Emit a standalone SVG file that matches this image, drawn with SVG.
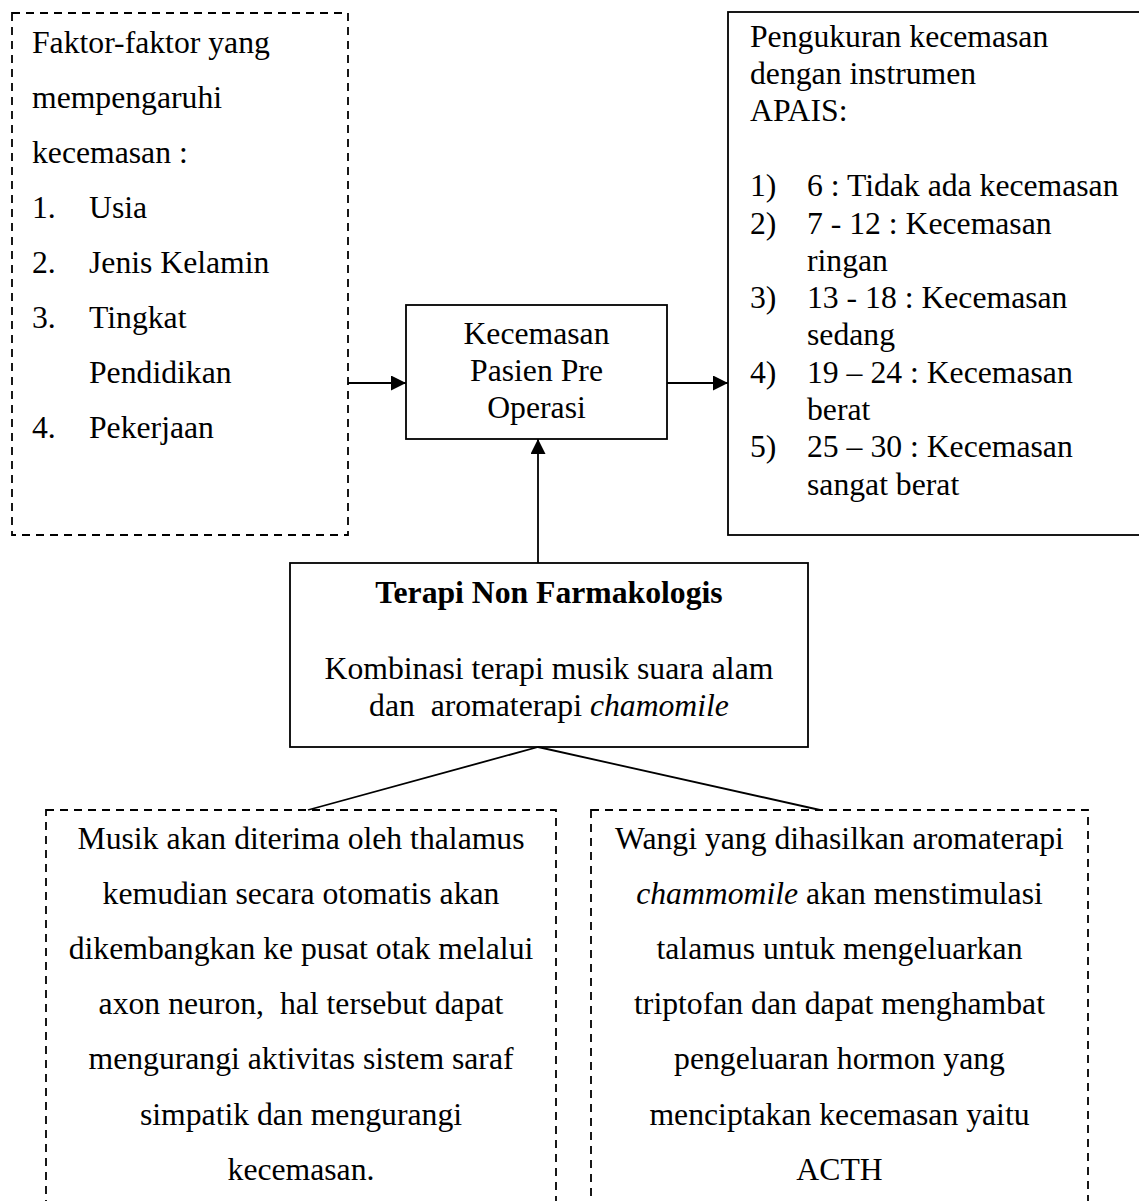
<svg xmlns="http://www.w3.org/2000/svg" width="1139" height="1201" viewBox="0 0 1139 1201">
<style>
text{font-family:"Liberation Serif","Times New Roman",serif;font-size:31.7px;fill:#000}
.c{text-anchor:middle}
.dash{fill:none;stroke:#000;stroke-width:1.8;stroke-dasharray:8 6}
.solid{fill:none;stroke:#000;stroke-width:1.8}
.ln{stroke:#000;stroke-width:1.8;fill:none}
</style>
<defs>
<marker id="ah" markerWidth="16" markerHeight="16" refX="15" refY="7.5" orient="auto" markerUnits="userSpaceOnUse">
<path d="M0,0 L15,7.5 L0,15 Z" fill="#000"/>
</marker>
</defs>
<rect width="1139" height="1201" fill="#fff"/>
<g id="connectors">
<line class="ln" x1="348" y1="383" x2="406" y2="383" marker-end="url(#ah)"/>
<line class="ln" x1="667" y1="383" x2="728" y2="383" marker-end="url(#ah)"/>
<line class="ln" x1="538" y1="563" x2="538" y2="439" marker-end="url(#ah)"/>
<line class="ln" x1="538" y1="747" x2="308" y2="810"/>
<line class="ln" x1="538" y1="747" x2="820" y2="810"/>
</g>
<g id="faktor">
<rect class="dash" x="12" y="13" width="336" height="522"/>
<text x="32" y="53">Faktor-faktor yang</text>
<text x="32" y="108">mempengaruhi</text>
<text x="32" y="163">kecemasan :</text>
<text x="32" y="218">1.</text><text x="89" y="218">Usia</text>
<text x="32" y="273">2.</text><text x="89" y="273">Jenis Kelamin</text>
<text x="32" y="328">3.</text><text x="89" y="328">Tingkat</text>
<text x="89" y="383">Pendidikan</text>
<text x="32" y="438">4.</text><text x="89" y="438">Pekerjaan</text>
</g>
<g id="kecemasan">
<rect class="solid" x="406" y="305" width="261" height="134"/>
<text class="c" x="536.5" y="344">Kecemasan</text>
<text class="c" x="536.5" y="381">Pasien Pre</text>
<text class="c" x="536.5" y="418">Operasi</text>
</g>
<g id="pengukuran">
<rect class="solid" x="728" y="12" width="420" height="523"/>
<text x="750" y="47">Pengukuran kecemasan</text>
<text x="750" y="84">dengan instrumen</text>
<text x="750" y="121">APAIS:</text>
<text x="750" y="196">1)</text><text x="807" y="196">6 : Tidak ada kecemasan</text>
<text x="750" y="234">2)</text><text x="807" y="234">7 - 12 : Kecemasan</text>
<text x="807" y="271">ringan</text>
<text x="750" y="308">3)</text><text x="807" y="308">13 - 18 : Kecemasan</text>
<text x="807" y="345">sedang</text>
<text x="750" y="383">4)</text><text x="807" y="383">19 – 24 : Kecemasan</text>
<text x="807" y="420">berat</text>
<text x="750" y="457">5)</text><text x="807" y="457">25 – 30 : Kecemasan</text>
<text x="807" y="495">sangat berat</text>
</g>
<g id="terapi">
<rect class="solid" x="290" y="563" width="518" height="184"/>
<text class="c" x="549" y="603" font-weight="bold">Terapi Non Farmakologis</text>
<text class="c" x="549" y="679">Kombinasi terapi musik suara alam</text>
<text class="c" x="549" y="716">dan&#160; aromaterapi <tspan font-style="italic">chamomile</tspan></text>
</g>
<g id="musik">
<rect class="dash" x="46" y="810" width="510" height="410"/>
<text class="c" x="301" y="849">Musik akan diterima oleh thalamus</text>
<text class="c" x="301" y="904">kemudian secara otomatis akan</text>
<text class="c" x="301" y="959">dikembangkan ke pusat otak melalui</text>
<text class="c" x="301" y="1014">axon neuron,&#160; hal tersebut dapat</text>
<text class="c" x="301" y="1069">mengurangi aktivitas sistem saraf</text>
<text class="c" x="301" y="1125">simpatik dan mengurangi</text>
<text class="c" x="301" y="1180">kecemasan.</text>
</g>
<g id="aromaterapi">
<rect class="dash" x="591" y="810" width="497" height="410"/>
<text class="c" x="839.5" y="849">Wangi yang dihasilkan aromaterapi</text>
<text class="c" x="839.5" y="904"><tspan font-style="italic">chammomile</tspan> akan menstimulasi</text>
<text class="c" x="839.5" y="959">talamus untuk mengeluarkan</text>
<text class="c" x="839.5" y="1014">triptofan dan dapat menghambat</text>
<text class="c" x="839.5" y="1069">pengeluaran hormon yang</text>
<text class="c" x="839.5" y="1125">menciptakan kecemasan yaitu</text>
<text class="c" x="839.5" y="1180">ACTH</text>
</g>
</svg>
